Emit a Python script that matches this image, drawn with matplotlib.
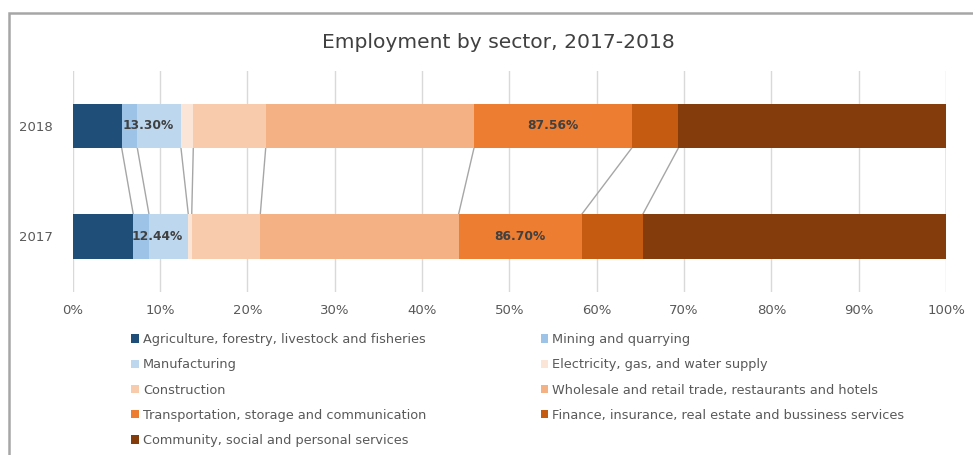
import matplotlib
matplotlib.use("Agg")
import matplotlib.pyplot as plt
from matplotlib.patches import Rectangle, Patch
import numpy as np

plt.rcParams['font.family'] = ['DejaVu Sans']

years = ["2017", "2018"]
sectors = [
    "Agriculture, forestry, livestock and fisheries",
    "Mining and quarrying",
    "Manufacturing",
    "Electricity, gas, and water supply",
    "Construction",
    "Wholesale and retail trade, restaurants and hotels",
    "Transportation, storage and communication",
    "Finance, insurance, real estate and bussiness services",
    "Community, social and personal services",
]
# Share of employment (%) per sector
share_2017 = [6.94, 1.80, 4.50, 0.39, 7.85, 22.70, 14.10, 6.99, 34.73]
share_2018 = [5.61, 1.79, 5.00, 1.41, 8.29, 23.85, 18.06, 5.34, 30.65]
colors = ["#1F4E79", "#9DC3E6", "#BDD7EE", "#FBE5D6", "#F8CBAD",
          "#F4B183", "#ED7D31", "#C55A11", "#843C0C"]

# Data labels shown on the bars
label_texts_2017 = {2: "12.44%", 6: "86.70%"}
label_texts_2018 = {2: "13.30%", 6: "87.56%"}

fig = plt.figure(figsize=(9.73, 4.55), dpi=100)
ax = fig.add_axes([0.0747, 0.3589, 0.8976, 0.4857])

shares = np.array([share_2017, share_2018])
ypos = np.arange(len(years))
bar_h = 0.4
left = np.zeros(len(years))
for i, name in enumerate(sectors):
    ax.barh(ypos, shares[:, i], left=left, height=bar_h, color=colors[i],
            edgecolor="none", label=name, zorder=3)
    for j, lab in ((0, label_texts_2017), (1, label_texts_2018)):
        if i in lab:
            cx = left[j] + shares[j, i] / 2
            dx = -8 if i == 2 else 0
            ax.annotate(lab[i], (cx, ypos[j]), xytext=(dx, 0),
                        textcoords="offset points", ha="center", va="center",
                        fontsize=8.8, fontweight="bold", color="#404040",
                        zorder=5)
    left = left + shares[:, i]

# Series lines joining the cumulative boundaries of the two bars
cum = np.cumsum(shares, axis=1)
for k in range(cum.shape[1]):
    ax.plot([cum[0, k], cum[1, k]], [ypos[0] + bar_h / 2, ypos[1] - bar_h / 2],
            color="#A6A6A6", lw=1.0, zorder=2)

ax.set_xlim(0, 100)
ax.set_ylim(-0.5, 1.5)
ax.set_xticks(np.arange(0, 101, 10))
ax.set_xticklabels([f"{v}%" for v in range(0, 101, 10)])
ax.set_yticks(ypos)
ax.set_yticklabels(years)
ax.tick_params(axis="both", length=0, colors="#595959", labelsize=9.5)
ax.tick_params(axis="x", pad=9)
ax.tick_params(axis="y", pad=14)
ax.grid(axis="x", color="#D9D9D9", lw=1.0, zorder=0)
for s in ax.spines.values():
    s.set_visible(False)

fig.text(0.5123, 0.906, "Employment by sector, 2017-2018", ha="center", va="center",
         fontsize=14.6, color="#404040")

# Legend laid out row by row in two columns
order = [0, 2, 4, 6, 8, 1, 3, 5, 7]
handles = [Patch(facecolor=colors[i], edgecolor="none") for i in order]
labels = [sectors[i] for i in order]
leg = fig.legend(handles, labels, ncol=2, loc="upper left",
                 bbox_to_anchor=(0.135, 0.268), frameon=False,
                 fontsize=9.3, handlelength=0.6, handleheight=0.6,
                 handletextpad=0.3, labelspacing=0.95, columnspacing=8.85,
                 borderaxespad=0, borderpad=0)
for t in leg.get_texts():
    t.set_color("#595959")

# Chart-area border
fig.patches.append(Rectangle((9 / 973, -0.1), 1.2, 0.1 + 1 - 13 / 455,
                             transform=fig.transFigure, fill=False,
                             edgecolor="#A6A6A6", lw=1.8))

fig.savefig("out.png", dpi=100)
